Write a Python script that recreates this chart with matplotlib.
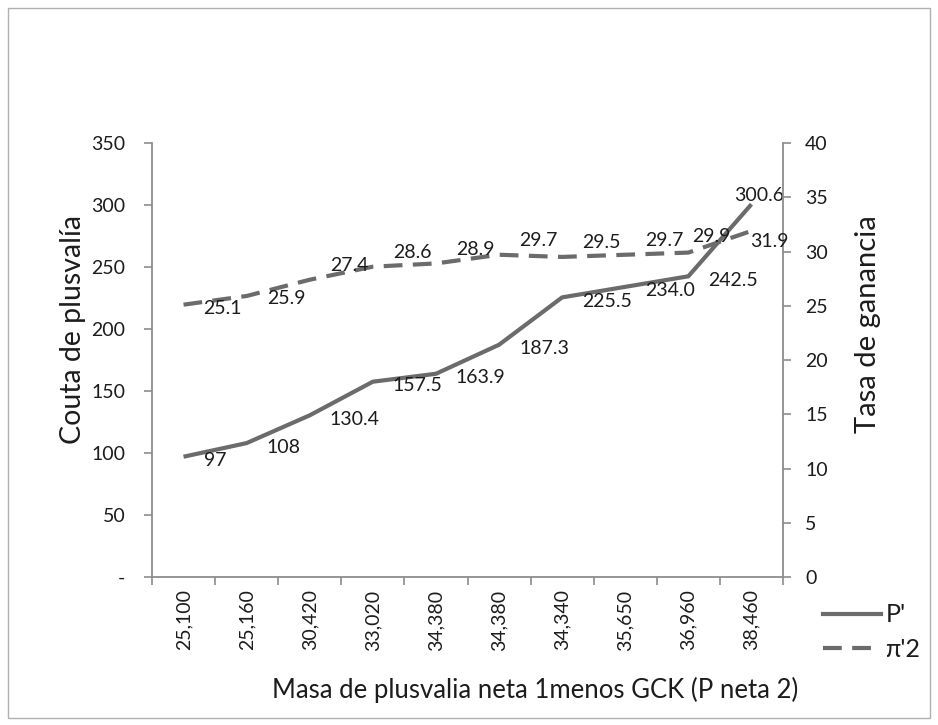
import matplotlib
matplotlib.use("Agg")
import matplotlib.pyplot as plt
from matplotlib.lines import Line2D
from matplotlib.patches import Rectangle
import numpy as np

plt.rcParams["font.family"] = ["Lato", "DejaVu Sans"]

# Masa de plusvalia neta (category labels) and the two series
categorias = ["25,100", "25,160", "30,420", "33,020", "34,380",
              "34,380", "34,340", "35,650", "36,960", "38,460"]
cuota_plusvalia = [97, 108, 130.4, 157.5, 163.9, 187.3, 225.5, 234.0, 242.5, 300.6]
tasa_ganancia = [25.1, 25.9, 27.4, 28.6, 28.9, 29.7, 29.5, 29.7, 29.9, 31.9]

left_ticks = [0, 50, 100, 150, 200, 250, 300, 350]
left_ticklabels = ["-", "50", "100", "150", "200", "250", "300", "350"]
right_ticks = [0, 5, 10, 15, 20, 25, 30, 35, 40]

# label offsets in pixels (dx right, dy down)
p_offsets = [(20, 4)] * 9 + [(8, -9)]
t_offsets = [(20, 4), (20, 3)] + [(20, -14)] * 6 + [(4, -16), (-1, 11)]

LINE = "#6b6b6b"
SPINE = "#8c8c8c"
TXT = "#1c1c1c"
PX = 0.72  # points per pixel at 100 dpi

fig = plt.figure(figsize=(9.38, 7.25), dpi=100)
fig.patches.append(Rectangle((8 / 938, 7 / 725), 922 / 938, 710 / 725,
                             transform=fig.transFigure, fill=False,
                             edgecolor="#b0b0b0", linewidth=1.0))

ax = fig.add_axes([152 / 938, 1 - 577 / 725, 631 / 938, 434 / 725])
ax2 = ax.twinx()

x = np.arange(len(categorias))
ax.plot(x, cuota_plusvalia, color=LINE, linewidth=3.0, solid_capstyle="butt")
ax2.plot(x, tasa_ganancia, color=LINE, linewidth=3.0, dashes=(4.5, 2.5))

ax.set_xlim(-0.5, len(categorias) - 0.5)
ax.set_ylim(0, 350)
ax2.set_ylim(0, 40)

ax.set_yticks(left_ticks)
ax.set_yticklabels(left_ticklabels)
ax2.set_yticks(right_ticks)

ax.set_xticks(x)
ax.set_xticklabels(categorias, rotation=90)
ax.set_xticks(np.arange(-0.5, len(categorias), 1), minor=True)
ax.tick_params(axis="x", which="major", length=0, pad=9, labelsize=14, colors=TXT)
ax.tick_params(axis="x", which="minor", length=6, width=1.2, color=SPINE, direction="out")
ax.tick_params(axis="y", length=6, width=1.2, color=SPINE, direction="out",
               pad=13, labelsize=14, labelcolor=TXT)
ax2.tick_params(axis="y", length=6, width=1.2, color=SPINE, direction="out",
                pad=10, labelsize=14, labelcolor=TXT)

for a in (ax, ax2):
    a.spines["top"].set_visible(False)
    for s in ("left", "right", "bottom"):
        a.spines[s].set_color(SPINE)
        a.spines[s].set_linewidth(1.3)
ax.spines["right"].set_visible(False)
ax2.spines["left"].set_visible(False)
ax2.spines["bottom"].set_visible(False)

for i, v in enumerate(cuota_plusvalia):
    dx, dy = p_offsets[i]
    ha = "center" if i == len(cuota_plusvalia) - 1 else "left"
    ax.annotate(str(v), (x[i], v), xytext=(dx * PX, -dy * PX),
                textcoords="offset points", ha=ha, va="center",
                fontsize=14, color=TXT)
for i, v in enumerate(tasa_ganancia):
    dx, dy = t_offsets[i]
    ax2.annotate(str(v), (x[i], v), xytext=(dx * PX, -dy * PX),
                 textcoords="offset points", ha="left", va="center",
                 fontsize=14, color=TXT)

fig.text(73 / 938, 1 - 329 / 725, "Couta de plusvalía", rotation=90,
         ha="center", va="center", fontsize=20.5, color=TXT)
fig.text(868 / 938, 1 - 324 / 725, "Tasa de ganancia", rotation=90,
         ha="center", va="center", fontsize=21, color=TXT)
fig.text(535 / 938, 1 - 690 / 725, "Masa de plusvalia neta 1menos GCK (P neta 2)",
         ha="center", va="center", fontsize=18.5, color=TXT)

handles = [Line2D([], [], color=LINE, linewidth=3.0),
           Line2D([], [], color=LINE, linewidth=3.0, dashes=(4.5, 2.5))]
fig.legend(handles, ["P'", "π'2"], loc="center left",
           bbox_to_anchor=(823 / 938, 1 - 632 / 725), frameon=False,
           fontsize=18, handlelength=2.3, handletextpad=0.2,
           labelspacing=0.45, borderpad=0, borderaxespad=0, labelcolor=TXT)

fig.savefig("out.png", dpi=100, facecolor="white")
